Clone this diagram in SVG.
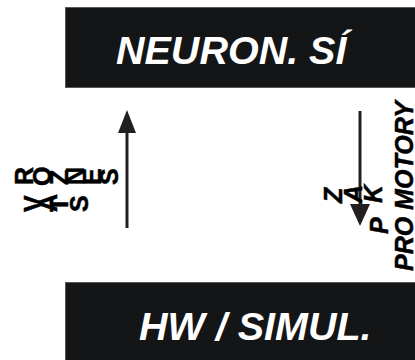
<svg xmlns="http://www.w3.org/2000/svg" width="415" height="360" viewBox="0 0 415 360">
  <style>
    .block { fill: #141517; stroke: #5a5856; stroke-width: 1; }
    .title { font-family: "Liberation Sans", Arial, sans-serif; font-weight: bold; font-style: italic; font-size: 39.5px; fill: #ffffff; }
    .lbl { font-family: "Liberation Sans", Arial, sans-serif; font-weight: bold; font-size: 25px; fill: #000000; stroke: #000000; stroke-width: 0.5; }
    .lbl-i { font-style: italic; }
    .wire { stroke: #231f20; stroke-width: 3; fill: none; }
    .head { fill: #231f20; }
  </style>

  <!-- upper block -->
  <g id="neuron">
    <rect class="block" x="65.5" y="7.5" width="360" height="80"/>
    <text class="title" x="116" y="64">NEURON. SÍ</text>
  </g>

  <!-- lower block -->
  <g id="hw">
    <rect class="block" x="65.5" y="282.5" width="360" height="90"/>
    <text class="title" x="139" y="340">HW / SIMUL.</text>
  </g>

  <!-- signal arrows -->
  <g id="connectors">
    <line class="wire" x1="127" y1="228" x2="127" y2="130"/>
    <polygon class="head" points="127,110 118,133 136,133"/>
    <line class="wire" x1="360" y1="111" x2="360" y2="208"/>
    <polygon class="head" points="360,226 350,204 370,204"/>
  </g>

  <!-- rotated labels, one glyph per text -->
  <g id="label-left">
    <text class="lbl" transform="translate(33,185) rotate(-90)">R</text>
    <text class="lbl" transform="translate(51,186) rotate(-90)">O</text>
    <text class="lbl" transform="translate(68,185) rotate(-90)">Z</text>
    <text class="lbl" transform="translate(84,185) rotate(-90)">N</text>
    <text class="lbl" transform="translate(101,185) rotate(-90)">E</text>
    <text class="lbl" transform="translate(118,185) rotate(-90)">S</text>
    <text class="lbl" transform="translate(42,212) rotate(-90)">V</text>
    <text class="lbl" transform="translate(57,212) rotate(-90)">A</text>
    <text class="lbl" transform="translate(68,212) rotate(-90)">T</text>
    <text class="lbl" transform="translate(88,212) rotate(-90)">S</text>
  </g>
  <g id="label-right">
    <text class="lbl lbl-i" transform="translate(342,203) rotate(-90)">Z</text>
    <text class="lbl lbl-i" transform="translate(362,203) rotate(-90)">A</text>
    <text class="lbl lbl-i" transform="translate(382,203) rotate(-90)">K</text>
    <text class="lbl lbl-i" transform="translate(388,234) rotate(-90)">P</text>
    <text class="lbl lbl-i" transform="translate(413,271) rotate(-90)">PRO MOTORY</text>
  </g>
</svg>
